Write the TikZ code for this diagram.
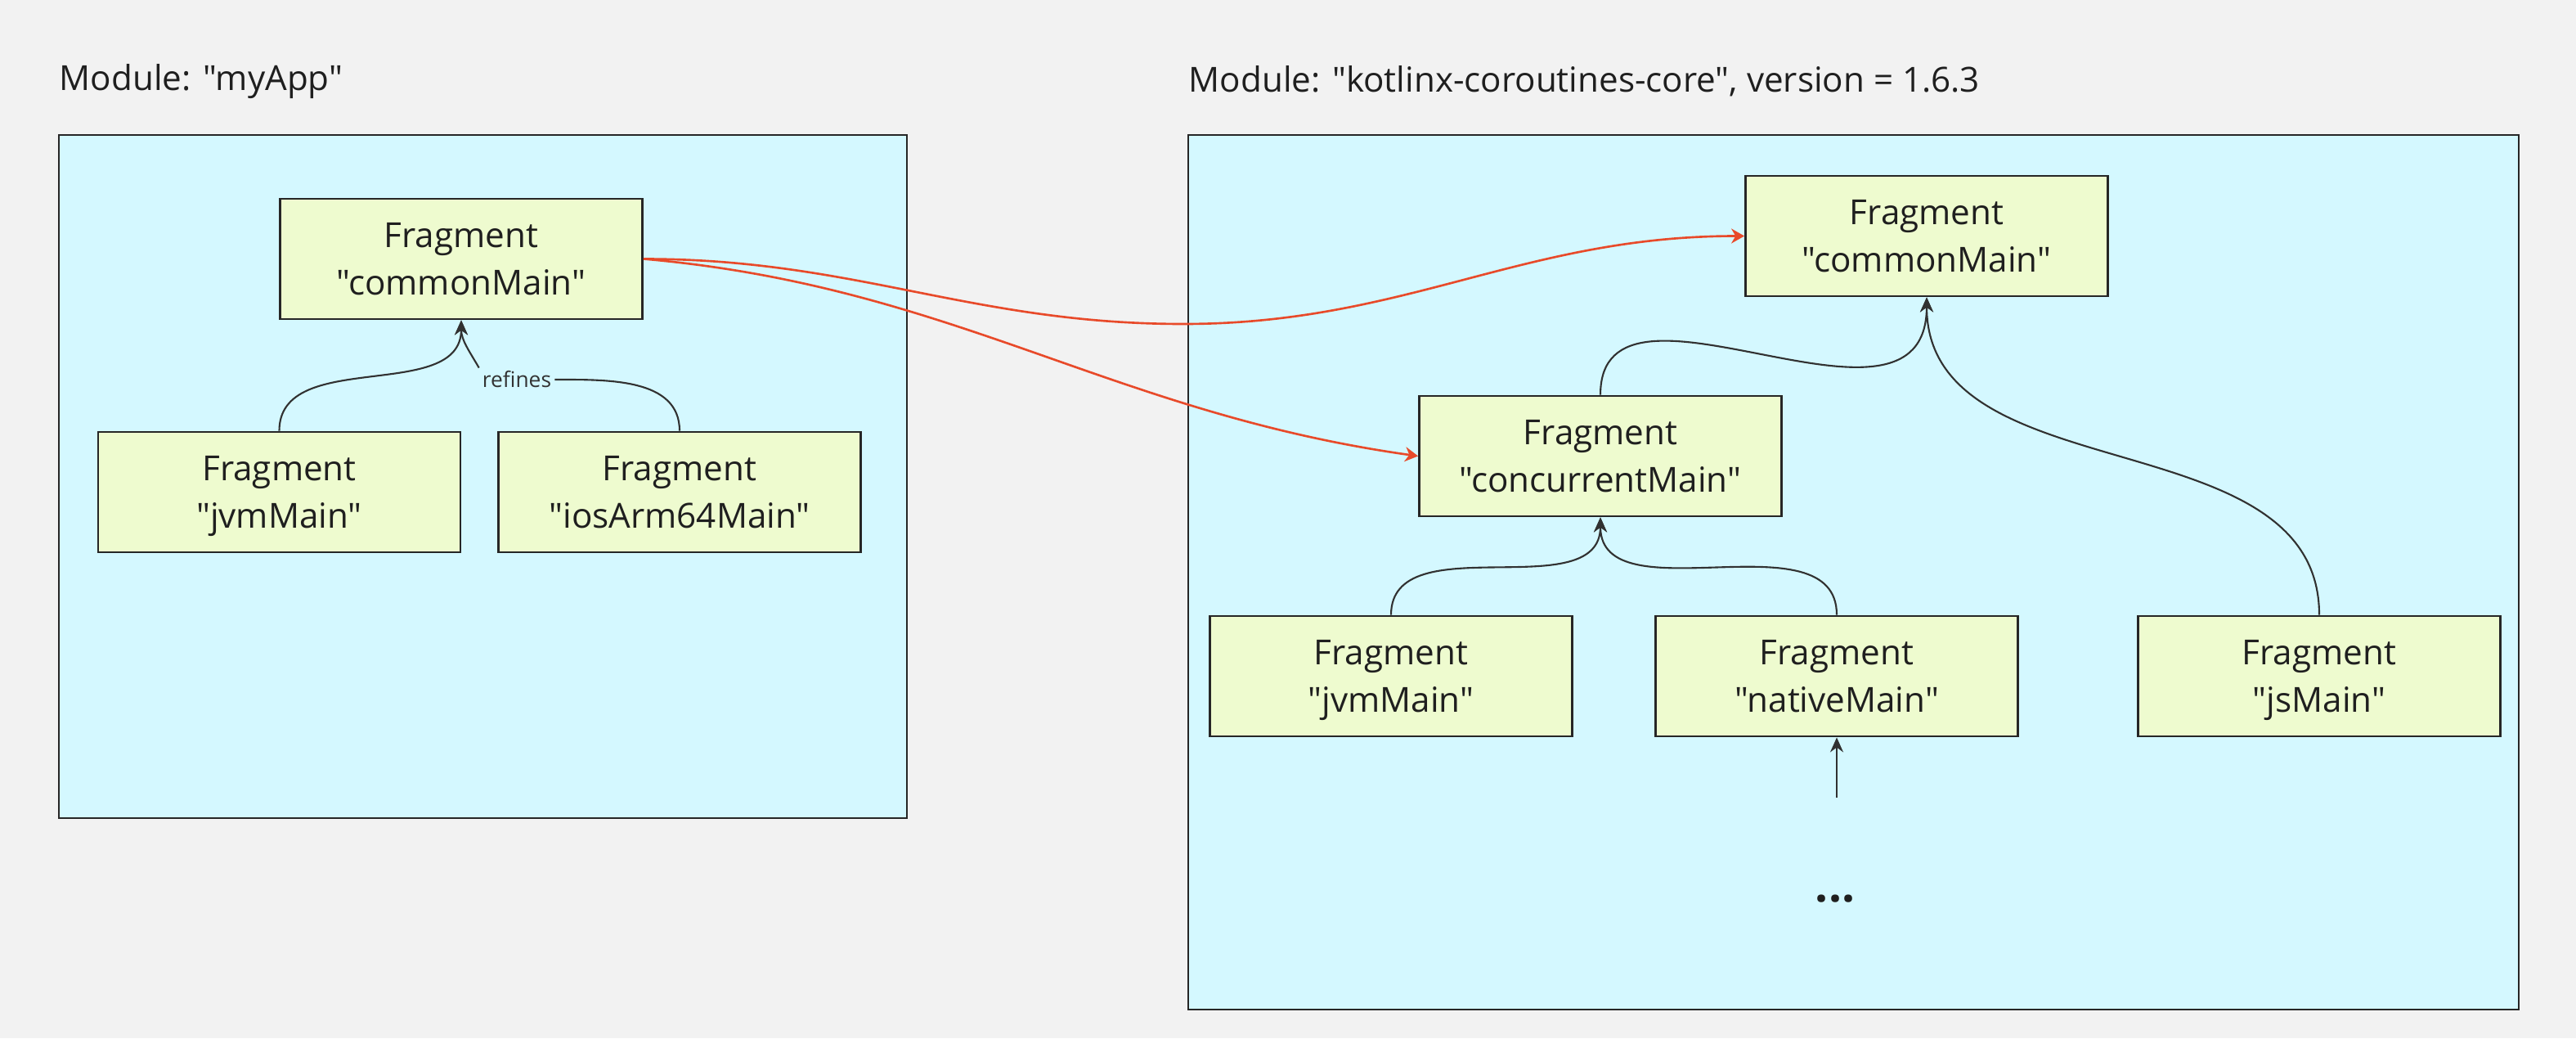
\documentclass[tikz,border=0pt]{standalone}
\usepackage{fontspec}
\setmainfont{Open Sans}[Ligatures=TeXReset]
\usepackage{xcolor}
\usetikzlibrary{arrows.meta}
\definecolor{bgray}{HTML}{F2F2F2}
\definecolor{modcyan}{HTML}{D4F8FF}
\definecolor{fraggreen}{HTML}{EEFBCF}
\definecolor{linedark}{HTML}{262626}
\definecolor{dependred}{HTML}{E84A2A}

\begin{document}
\begin{tikzpicture}[
  fragment/.style={draw=linedark,line width=0.8pt,fill=fraggreen,minimum width=4.43cm,minimum height=1.47cm,
    inner sep=0pt,align=center,text=black!88,font=\fontsize{12}{16.5}\selectfont,
    text height=25.1pt,text depth=0pt},
  refine/.style={draw=linedark!95,line width=0.6pt,-{Stealth[length=1.8mm,width=1.6mm]}},
  depend/.style={draw=dependred,line width=0.75pt,-{Stealth[length=1.6mm,width=1.8mm]}},
  module/.style={draw=linedark,line width=0.7pt,fill=modcyan},
  modlabel/.style={anchor=base west,inner sep=0pt,text=black!88,font=\fontsize{12}{14}\selectfont}]
\fill[bgray] (0,0) rectangle (31.5,12.69);
\useasboundingbox (0,0) rectangle (31.5,12.69);
\filldraw[module] (0.72,2.69) rectangle (11.09,11.04);
\filldraw[module] (14.53,0.35) rectangle (30.80,11.04);
\node[modlabel] (applabel) at (0.72,11.59) {Module: "myApp"};
\node[modlabel] (liblabel) at (14.53,11.56) {Module: "kotlinx-coroutines-core", version = 1.6.3};

\node[fragment] (appcommon) at (5.64,9.525) {Fragment\\"commonMain"};
\node[fragment] (appjvm) at (3.415,6.675) {Fragment\\"jvmMain"};
\node[fragment] (appios) at (8.31,6.675) {Fragment\\"iosArm64Main"};
\node[inner sep=1pt,text=black!80,font=\fontsize{7.5}{9}\selectfont] (refines) at (6.32,8.05) {refines};

\node[fragment] (libcommon) at (23.56,9.805) {Fragment\\"commonMain"};
\node[fragment] (libconcurrent) at (19.57,7.115) {Fragment\\"concurrentMain"};
\node[fragment] (libjvm) at (17.01,4.425) {Fragment\\"jvmMain"};
\node[fragment] (libnative) at (22.46,4.425) {Fragment\\"nativeMain"};
\node[fragment] (libjs) at (28.36,4.425) {Fragment\\"jsMain"};
\node[text=black!88,font=\bfseries\fontsize{16}{18}\selectfont] (more) at (22.44,1.70) {...};
\coordinate (morein) at (22.46,2.94);
\coordinate (dip) at (14.47,8.73);

\draw[refine] (appjvm.north) to[out=90,in=-90] (appcommon.south);
\draw[linedark!95,line width=0.6pt] (appios.north) to[out=90,in=0] (refines.east);
\draw[refine] (refines.north west) to[out=120,in=-90] (appcommon.south);

\draw[refine] (libconcurrent.north) to[out=90,in=-90,out looseness=1.1,in looseness=1.25] (libcommon.south);
\draw[refine] (libjs.north) to[out=90,in=-90] (libcommon.south);
\draw[refine] (libjvm.north) to[out=90,in=-90] (libconcurrent.south);
\draw[refine] (libnative.north) to[out=90,in=-90] (libconcurrent.south);
\draw[refine] (morein) -- (libnative.south);

\draw[depend] (appcommon.east) to[out=0,in=180] (dip) to[out=0,in=180] (libcommon.west);
\draw[depend] (appcommon.east) to[out=-5,in=172] (libconcurrent.west);
\end{tikzpicture}
\end{document}
